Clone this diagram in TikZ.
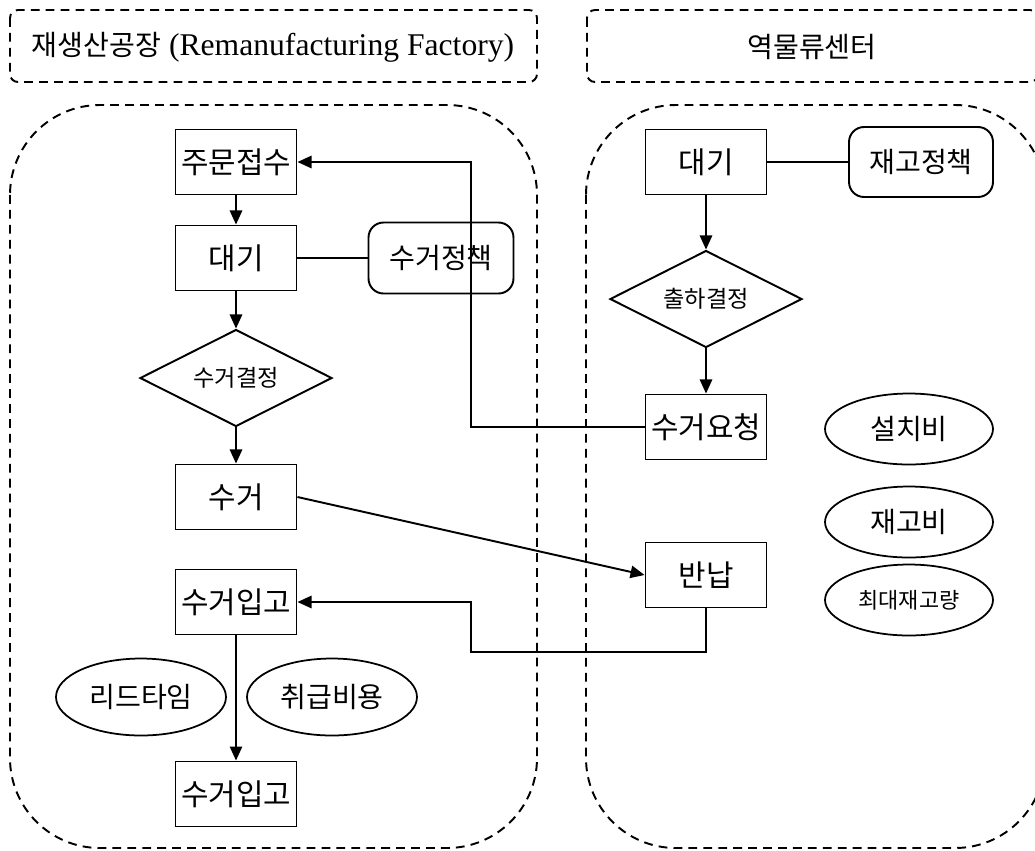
\documentclass[tikz,border=0pt]{standalone}
\usepackage{fontspec}
\setmainfont{Liberation Serif}
\newfontfamily\kr{Noto Sans CJK KR}
\usetikzlibrary{shapes.geometric,arrows.meta}

\tikzset{
  txt/.style={font=\kr\fontsize{17}{20}\selectfont},
  mid/.style={font=\kr\fontsize{16}{19}\selectfont},
  small/.style={font=\kr\fontsize{13.2}{15}\selectfont},
  stepbox/.style={draw, line width=1.1pt, minimum width=2.42cm, minimum height=1.3cm, inner sep=0pt, txt},
  policy/.style={draw, line width=1.1pt, rounded corners=0.3cm, minimum width=2.9cm, minimum height=1.42cm, inner sep=0pt, mid},
  decide/.style={draw, diamond, aspect=2, line width=1.1pt, minimum width=3.84cm, minimum height=1.94cm, inner sep=0pt, small},
  cost/.style={draw, ellipse, line width=1pt, minimum width=3.36cm, minimum height=1.42cm, inner sep=0pt, mid},
  link/.style={line width=1.1pt},
  flow/.style={line width=1.1pt, -{Triangle[length=8pt,width=7pt]}},
  zone/.style={line width=1.1pt, dash pattern=on 5pt off 3.5pt},
  headtext/.style={font=\fontsize{18}{20}\selectfont},
  headkr/.style={font=\kr\fontsize{16}{19}\selectfont},
}

\begin{document}
\begin{tikzpicture}[x=0.02cm,y=-0.02cm]
  \useasboundingbox (0,0) rectangle (1035,850);
  \clip (0,0) rectangle (1035,850);

  % swimlane headers
  \draw[zone, rounded corners=0.16cm] (10,10) rectangle (537,82);
  \draw[zone, rounded corners=0.16cm] (587,10) rectangle (1038,82);
  \node[headtext] (hfac) at (273,47) {{\kr\fontsize{16}{19}\selectfont 재생산공장}\ (Remanufacturing Factory)};
  \node[headkr]   (hrl)  at (812,47) {역물류센터};

  % swimlanes
  \draw[zone, rounded corners=1.8cm] (10,105) rectangle (537,848);
  \draw[zone, rounded corners=1.8cm] (586,105) rectangle (1045,848);

  % remanufacturing factory
  \node[stepbox] (order)   at (236,162) {주문접수};
  \node[stepbox] (wait)    at (236,258) {대기};
  \node[policy]  (cpol)    at (441,258) {수거정책};
  \node[decide]  (cdec)    at (236,378) {수거결정};
  \node[stepbox] (collect) at (236,497) {수거};
  \node[stepbox] (inbA)    at (236,602) {수거입고};
  \node[stepbox] (inbB)    at (236,794) {수거입고};
  \node[cost, minimum width=3.4cm, minimum height=1.54cm] (lead)   at (141,697) {리드타임};
  \node[cost, minimum width=3.4cm, minimum height=1.54cm] (handle) at (332,697) {취급비용};

  % reverse logistics center
  \node[stepbox] (rwait) at (706,162) {대기};
  \node[policy, minimum width=2.88cm, minimum height=1.4cm] (ipol) at (921,162) {재고정책};
  \node[decide]  (ship)  at (706,299) {출하결정};
  \node[stepbox] (req)   at (706,427) {수거요청};
  \node[stepbox] (ret)   at (706,575) {반납};
  \node[cost] (setup) at (909,429) {설치비};
  \node[cost] (stock) at (909,522) {재고비};
  \node[cost, font=\kr\fontsize{12.5}{15}\selectfont] (maxq) at (909,600) {최대재고량};

  % turning points of the return paths
  \coordinate (t1) at (471,162);
  \coordinate (t2) at (471,652);

  % connectors
  \draw[flow] (order) -- (wait);
  \draw[link] (wait) -- (cpol);
  \draw[flow] (wait) -- (cdec);
  \draw[flow] (cdec) -- (collect);
  \draw[flow] (inbA) -- (inbB);
  \draw[link] (rwait) -- (ipol);
  \draw[flow] (rwait) -- (ship);
  \draw[flow] (ship) -- (req);
  \draw[flow] (req.west) -| (t1) -- (order.east);
  \draw[flow] (collect.east) -- (ret.west);
  \draw[flow] (ret.south) |- (t2) |- (inbA.east);
\end{tikzpicture}
\end{document}
